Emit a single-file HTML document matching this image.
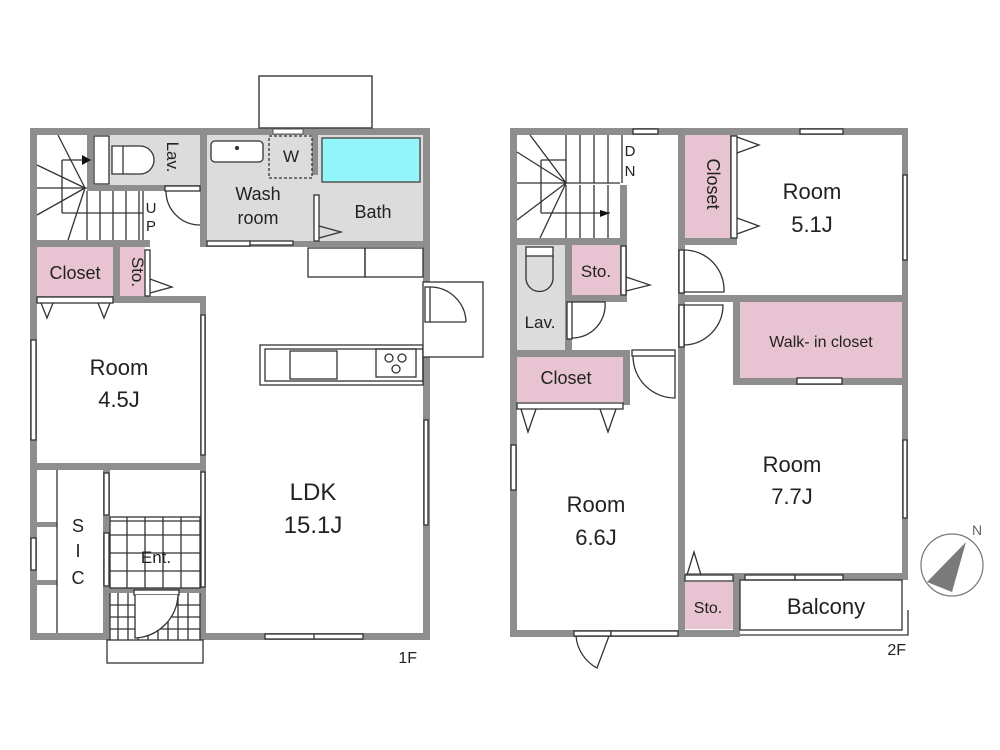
<!DOCTYPE html>
<html><head><meta charset="utf-8"><style>
html,body{margin:0;padding:0;background:#fff;}
svg{display:block;}
text{font-family:"Liberation Sans",sans-serif;fill:#222;}
</style></head><body>
<svg width="1000" height="750" viewBox="0 0 1000 750" xmlns="http://www.w3.org/2000/svg">
<g stroke="none">
<!-- ===== 1F fills ===== -->
<rect x="93" y="135" width="107" height="50" fill="#dcdcdc"/>
<rect x="207" y="135" width="216" height="106" fill="#dcdcdc"/>
<rect x="37" y="247" width="76" height="50" fill="#e8c3d2"/>
<rect x="120" y="247" width="25" height="50" fill="#e8c3d2"/>
<!-- bathtub -->
<rect x="322" y="138" width="98" height="44" fill="#93f6fb" stroke="#555" stroke-width="1.5"/>
<!-- ===== 1F walls ===== -->
<g fill="#8e8e8e">
<rect x="30" y="128" width="400" height="7"/>
<rect x="30" y="128" width="7" height="512"/>
<rect x="423" y="128" width="7" height="512"/>
<rect x="200" y="633" width="230" height="7"/>
<rect x="30" y="633" width="80" height="7"/>
<rect x="87" y="135" width="6" height="55"/>
<rect x="87" y="185" width="113" height="6"/>
<rect x="200" y="128" width="7" height="119"/>
<rect x="200" y="241" width="230" height="6"/>
<rect x="30" y="240" width="120" height="7"/>
<rect x="113" y="247" width="7" height="50"/>
<rect x="30" y="296" width="176" height="7"/>
<rect x="200" y="296" width="6" height="344"/>
<rect x="30" y="463" width="176" height="7"/>
<rect x="103" y="470" width="7" height="170"/>
<rect x="37" y="522" width="20" height="5"/>
<rect x="37" y="580" width="20" height="5"/>
<rect x="110" y="588" width="90" height="5"/>
<rect x="312" y="135" width="6" height="40"/>
</g>
<!-- window box top -->
<rect x="259" y="76" width="113" height="52" fill="#fff" stroke="#444" stroke-width="1.5"/>
<rect x="273" y="129" width="30" height="5" fill="#fff" stroke="#555"/>
</g>
<g fill="none" stroke="#333" stroke-width="1.3">
<!-- stairs 1F -->
<line x1="37" y1="188" x2="87" y2="188"/>
<line x1="62" y1="160" x2="62" y2="213"/><line x1="62" y1="160" x2="82" y2="160"/>
<line x1="62" y1="213" x2="143" y2="213"/>
<line x1="85" y1="188" x2="58" y2="135"/><line x1="85" y1="188" x2="37" y2="165"/><line x1="85" y1="188" x2="37" y2="215"/><line x1="85" y1="188" x2="68" y2="240"/>
<line x1="87" y1="191" x2="87" y2="240"/><line x1="100" y1="191" x2="100" y2="240"/><line x1="113" y1="191" x2="113" y2="240"/><line x1="126" y1="191" x2="126" y2="240"/><line x1="139" y1="191" x2="139" y2="240"/>
<line x1="143" y1="191" x2="143" y2="240"/>
<!-- toilet 1F -->
<rect x="94" y="136" width="15" height="48" fill="#fff"/>
<path d="M112 146 H140 A14 14 0 0 1 140 174 H112 Z" fill="#fff"/>
<line x1="123" y1="146" x2="123" y2="174"/>
<!-- door toilet -->
<rect x="165" y="186" width="35" height="5" fill="#fff"/>
<path d="M166 191 A34 34 0 0 0 200 225"/>
<!-- wash sink -->
<rect x="211" y="141" width="52" height="21" rx="4" fill="#fff"/>
<circle cx="237" cy="148" r="1.5" fill="#333"/>
<rect x="269" y="136" width="43" height="42" stroke-dasharray="3,2"/>
<!-- wash doors -->
<rect x="207" y="241" width="43" height="5" fill="#fff"/><rect x="250" y="241" width="43" height="4" fill="#fff"/>
<rect x="314" y="195" width="5" height="46" fill="#fff"/>
<path d="M319 226 L341 232 L319 238"/>
<!-- cabinets -->
<rect x="308" y="248" width="57" height="29"/><rect x="365" y="248" width="58" height="29"/>
<!-- sto door -->
<rect x="145" y="250" width="5" height="46" fill="#fff"/>
<path d="M150 279 L172 287 L150 293"/>
<rect x="37" y="297" width="76" height="6" fill="#fff"/>
<path d="M41 303 L47 318 L53 303 M98 303 L104 318 L110 303"/>
<!-- room windows -->
<rect x="31" y="340" width="5" height="100" fill="#fff"/>
<rect x="201" y="315" width="4" height="140" fill="#fff"/>
<!-- kitchen -->
<rect x="260" y="345" width="163" height="40" fill="#fff"/>
<rect x="265" y="349" width="158" height="32"/>
<rect x="290" y="351" width="47" height="28"/>
<rect x="376" y="349" width="40" height="28"/>
<circle cx="389" cy="358" r="4"/><circle cx="402" cy="358" r="4"/><circle cx="396" cy="369" r="4"/>
<!-- right door -->
<rect x="423" y="282" width="60" height="75" fill="#fff"/>
<rect x="425" y="287" width="5" height="35" fill="#fff"/>
<path d="M430 287 A36 36 0 0 1 466 322 M430 322 H466"/>
<rect x="424" y="420" width="4" height="105" fill="#fff"/>
<rect x="265" y="634" width="98" height="5" fill="#fff"/><line x1="314" y1="634" x2="314" y2="639"/>
<!-- SIC -->
<line x1="57" y1="470" x2="57" y2="633"/>
<rect x="31" y="538" width="5" height="32" fill="#fff"/>
<rect x="104" y="473" width="5" height="42" fill="#fff"/>
<rect x="104" y="533" width="5" height="53" fill="#fff"/>
<rect x="201" y="472" width="4" height="115" fill="#fff"/>
<!-- Ent tiles -->
<rect x="110" y="517" width="90" height="71"/>
<path d="M110 521 H200 M127 517 V588 M145 517 V588 M163 517 V588 M181 517 V588 M110 535 H200 M110 553 H200 M110 571 H200"/>
<path d="M110 593 V663 M200 593 V663 M118 593 V640 M128 593 V640 M138 593 V640 M148 593 V640 M158 593 V640 M168 593 V640 M178 593 V640 M188 593 V640 M110 605 H200 M110 617 H200 M110 629 H200"/>
<rect x="134" y="590" width="45" height="5" fill="#fff"/>
<path d="M135 595 V638 A45 45 0 0 0 178 595" fill="#fff"/>
<rect x="107" y="640" width="96" height="23" fill="#fff"/>
</g>
<g>
<path d="M82 155 L91 160 L82 165 Z" fill="#111"/>
</g>
<!-- 1F text -->
<text x="167" y="157" font-size="17" transform="rotate(90 167 157)" text-anchor="middle">Lav.</text>
<text x="151" y="213" font-size="15" text-anchor="middle">U</text>
<text x="151" y="231" font-size="15" text-anchor="middle">P</text>
<text x="291" y="162" font-size="17" text-anchor="middle">W</text>
<text x="258" y="200" font-size="18" text-anchor="middle">Wash</text>
<text x="258" y="224" font-size="18" text-anchor="middle">room</text>
<text x="373" y="218" font-size="18" text-anchor="middle">Bath</text>
<text x="75" y="279" font-size="18" text-anchor="middle">Closet</text>
<text x="132" y="272" font-size="17" text-anchor="middle" transform="rotate(90 132 272)">Sto.</text>
<text x="119" y="375" font-size="22" text-anchor="middle">Room</text>
<text x="119" y="407" font-size="22" text-anchor="middle">4.5J</text>
<text x="313" y="500" font-size="24" text-anchor="middle">LDK</text>
<text x="313" y="533" font-size="24" text-anchor="middle">15.1J</text>
<text x="78" y="532" font-size="18" text-anchor="middle">S</text>
<text x="78" y="557" font-size="18" text-anchor="middle">I</text>
<text x="78" y="584" font-size="18" text-anchor="middle">C</text>
<text x="156" y="563" font-size="17" text-anchor="middle">Ent.</text>
<text x="417" y="663" font-size="16" text-anchor="end">1F</text>

<!-- ===== 2F ===== -->
<g stroke="none">
<rect x="517" y="245" width="48" height="105" fill="#dcdcdc"/>
<rect x="572" y="245" width="48" height="50" fill="#e8c3d2"/>
<rect x="685" y="135" width="45" height="105" fill="#e8c3d2"/>
<rect x="740" y="302" width="162" height="76" fill="#e8c3d2"/>
<rect x="517" y="357" width="106" height="45" fill="#e8c3d2"/>
<rect x="685" y="582" width="48" height="47" fill="#e8c3d2"/>
<g fill="#8e8e8e">
<rect x="510" y="128" width="398" height="7"/>
<rect x="510" y="128" width="7" height="509"/>
<rect x="902" y="128" width="6" height="452"/>
<rect x="510" y="630" width="230" height="7"/>
<rect x="678" y="128" width="7" height="509"/>
<rect x="620" y="185" width="7" height="60"/>
<rect x="510" y="238" width="117" height="7"/>
<rect x="565" y="245" width="7" height="112"/>
<rect x="572" y="295" width="55" height="7"/>
<rect x="620" y="245" width="7" height="57"/>
<rect x="510" y="350" width="117" height="7"/>
<rect x="623" y="350" width="7" height="55"/>
<rect x="730" y="135" width="7" height="105"/>
<rect x="685" y="238" width="52" height="7"/>
<rect x="678" y="295" width="230" height="7"/>
<rect x="733" y="302" width="7" height="83"/>
<rect x="733" y="378" width="175" height="7"/>
<rect x="678" y="573" width="230" height="7"/>
<rect x="733" y="580" width="7" height="57"/>
</g>
</g>
<g fill="none" stroke="#333" stroke-width="1.3">
<!-- stairs 2F -->
<line x1="517" y1="183" x2="620" y2="183"/>
<line x1="541" y1="160" x2="541" y2="213"/><line x1="541" y1="160" x2="566" y2="160"/>
<line x1="541" y1="213" x2="610" y2="213"/>
<line x1="566" y1="183" x2="530" y2="135"/><line x1="566" y1="183" x2="517" y2="152"/><line x1="566" y1="183" x2="517" y2="220"/><line x1="566" y1="183" x2="540" y2="238"/>
<path d="M566 135 V183 M580 135 V183 M594 135 V183 M608 135 V183 M622 135 V183 M566 185 V238 M580 185 V238 M594 185 V238 M608 185 V238"/>
<rect x="633" y="129" width="25" height="5" fill="#fff"/>
<rect x="800" y="129" width="43" height="5" fill="#fff"/>
<!-- toilet 2F -->
<rect x="526" y="247" width="27" height="9" fill="#fff"/>
<path d="M526 256 V278 A13.5 13.5 0 0 0 553 278 V256"/>
<!-- sto door -->
<rect x="621" y="246" width="5" height="49" fill="#fff"/>
<path d="M626 277 L650 285 L626 291"/>
<!-- lav door -->
<rect x="567" y="302" width="5" height="37" fill="#fff"/>
<path d="M572 302 H605 A33 33 0 0 1 572 338"/>
<!-- closet 2F door -->
<rect x="517" y="403" width="106" height="6" fill="#fff"/>
<path d="M521 409 L528 432 L536 409 M600 409 L608 432 L616 409"/>
<rect x="511" y="445" width="5" height="45" fill="#fff"/>
<!-- room6.6 door -->
<rect x="632" y="350" width="43" height="6" fill="#fff"/>
<path d="M675 356 V398 A42 42 0 0 1 633 356"/>
<!-- room doors -->
<rect x="679" y="250" width="5" height="43" fill="#fff"/>
<path d="M684 250 A40 40 0 0 1 724 292 H684"/>
<rect x="679" y="305" width="5" height="42" fill="#fff"/>
<path d="M684 305 H723 A40 40 0 0 1 684 345"/>
<!-- closet 5.1 door -->
<rect x="731" y="136" width="6" height="102" fill="#fff"/>
<path d="M737 137 L759 145 L737 153 M737 218 L759 226 L737 234"/>
<rect x="903" y="175" width="4" height="85" fill="#fff"/>
<rect x="797" y="378" width="45" height="6" fill="#fff"/>
<rect x="903" y="440" width="4" height="78" fill="#fff"/>
<!-- room 6.6 bottom door -->
<rect x="574" y="631" width="37" height="5" fill="#fff"/>
<rect x="611" y="631" width="67" height="5" fill="#fff"/>
<path d="M576 636 A40 40 0 0 0 597 668 L609 636"/>
<!-- sto 2F door -->
<rect x="685" y="575" width="48" height="6" fill="#fff"/>
<path d="M687 575 L694 552 L701 575"/>
<rect x="745" y="575" width="50" height="5" fill="#fff"/><rect x="795" y="575" width="48" height="5" fill="#fff"/>
<!-- balcony -->
<rect x="740" y="580" width="162" height="50"/>
<path d="M740 635 H908 V610"/>
</g>
<text x="630" y="156" font-size="15" text-anchor="middle">D</text>
<text x="630" y="176" font-size="15" text-anchor="middle">N</text>
<path d="M600 210 L610 213 L600 217 Z" fill="#111"/>
<text x="596" y="277" font-size="17" text-anchor="middle">Sto.</text>
<text x="540" y="328" font-size="17" text-anchor="middle">Lav.</text>
<text x="566" y="384" font-size="18" text-anchor="middle">Closet</text>
<text x="707" y="184" font-size="18" text-anchor="middle" transform="rotate(90 707 184)">Closet</text>
<text x="812" y="199" font-size="22" text-anchor="middle">Room</text>
<text x="812" y="232" font-size="22" text-anchor="middle">5.1J</text>
<text x="821" y="347" font-size="16" text-anchor="middle">Walk- in closet</text>
<text x="792" y="472" font-size="22" text-anchor="middle">Room</text>
<text x="792" y="504" font-size="22" text-anchor="middle">7.7J</text>
<text x="596" y="512" font-size="22" text-anchor="middle">Room</text>
<text x="596" y="545" font-size="22" text-anchor="middle">6.6J</text>
<text x="708" y="613" font-size="16" text-anchor="middle">Sto.</text>
<text x="826" y="614" font-size="22" text-anchor="middle">Balcony</text>
<text x="906" y="655" font-size="16" text-anchor="end">2F</text>
<!-- compass -->
<circle cx="952" cy="565" r="31" fill="none" stroke="#777" stroke-width="1.2"/>
<path d="M966 542 L927 582 L952 592 Z" fill="#7a7a7a"/>
<text x="972" y="535" font-size="14" fill="#666" style="fill:#666">N</text>
</svg>
</body></html>
